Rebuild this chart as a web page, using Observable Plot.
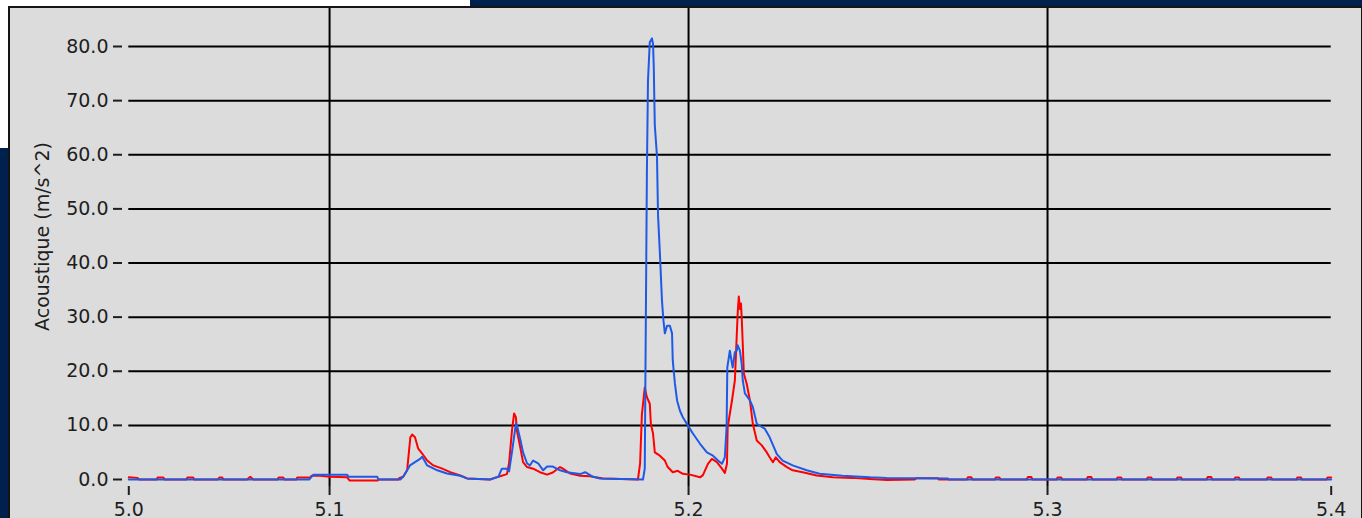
<!DOCTYPE html>
<html><head><meta charset="utf-8">
<script src="https://cdn.jsdelivr.net/npm/d3@7"></script>
<script src="https://cdn.jsdelivr.net/npm/@observablehq/plot@0.6"></script>
<style>
html,body{margin:0;padding:0;}
body{width:1362px;height:518px;overflow:hidden;position:relative;background:#00204e;font-family:"DejaVu Sans",sans-serif;}
#white{position:absolute;left:0;top:0;width:470px;height:148px;background:#ffffff;}
#panel{position:absolute;left:8px;top:6px;width:1351px;height:520px;background:#dcdcdc;border:2px solid #141414;}
#panel svg{display:block;}
</style></head><body>
<div id="white"></div>
<div id="panel"></div>
<script>
// Axis ticks (LabVIEW-style: end labels show the rounded domain limits)
const xTickValues = [5.04407, 5.1, 5.2, 5.3, 5.37902];
const xTickLabels = ["5.0", "5.1", "5.2", "5.3", "5.4"];
const xGridValues = [5.1, 5.2, 5.3];
const yTickValues = [0, 10, 20, 30, 40, 50, 60, 70, 80];
const yGridValues = [10, 20, 30, 40, 50, 60, 70, 80];
const yLabel = "Acoustique (m/s^2)";

// Red channel [time (s), acceleration (m/s^2)]
const redSeries = [
  [5.04407,0.4],[5.0465,0.3],[5.0470,0],
  [5.0518,0],[5.0521,0.35],[5.0537,0.35],[5.0540,0],
  [5.0601,0],[5.0604,0.35],[5.0620,0.35],[5.0623,0],
  [5.0688,0],[5.0693,0.35],[5.0701,0.35],[5.0704,0],
  [5.0770,0],[5.0779,0.5],[5.0788,0],
  [5.0855,0],[5.0858,0.35],[5.0871,0.35],[5.0874,0],
  [5.0907,0],[5.0910,0.35],[5.0946,0.35],[5.0950,0.7],[5.0974,0.7],[5.1000,0.5],[5.1049,0.4],
  [5.1056,-0.2],[5.1133,-0.2],[5.1137,0],[5.1191,0],[5.1195,0.3],
  [5.1205,0.5],[5.1216,1.7],[5.1225,7.8],[5.1230,8.3],[5.1238,7.8],[5.1247,5.7],[5.1258,4.8],
  [5.1272,3.5],[5.1289,2.6],[5.1314,2.0],[5.1336,1.35],[5.1364,0.74],[5.1383,0.2],[5.1447,0],
  [5.1460,0.3],[5.1475,0.6],[5.1494,1.0],[5.1500,3.0],[5.1508,9.0],[5.1514,12.2],[5.1519,11.5],
  [5.1522,9.0],[5.1531,6.0],[5.1539,3.2],[5.1550,2.3],[5.1567,2.0],[5.1586,1.35],[5.1606,0.9],
  [5.1622,1.3],[5.1642,2.3],[5.1650,2.0],[5.1670,1.1],[5.1698,0.7],[5.1725,0.6],[5.1762,0.2],
  [5.1859,0],[5.1865,3.0],[5.1870,12.0],[5.1878,17.0],[5.1884,15.2],[5.1892,14.0],[5.1895,10.3],
  [5.1901,8.5],[5.1906,5.0],[5.1920,4.4],[5.1934,3.5],[5.1942,2.3],[5.1956,1.35],[5.1970,1.6],
  [5.1984,1.05],[5.2004,0.9],[5.2032,0.4],[5.2040,0.8],[5.2054,2.9],[5.2065,3.8],[5.2079,3.2],
  [5.2093,2.0],[5.2101,1.2],[5.2107,2.9],[5.2109,9.7],[5.2121,14.6],[5.2129,18.3],[5.2137,31.0],
  [5.2140,33.8],[5.2143,31.5],[5.2146,32.5],[5.2148,30.0],[5.2151,25.0],[5.2154,19.6],[5.2162,17.7],
  [5.2171,14.6],[5.2179,10.3],[5.2190,7.2],[5.2204,6.3],[5.2218,5.0],[5.2226,4.1],[5.2235,3.2],
  [5.2243,4.1],[5.2254,3.2],[5.2274,2.3],[5.2290,1.7],[5.2318,1.35],[5.2357,0.74],[5.2402,0.4],
  [5.2457,0.3],[5.2505,0.1],[5.2552,-0.1],[5.2630,0],[5.2635,0.25],[5.2694,0.25],[5.2697,0],
  [5.2775,0],[5.2778,0.4],[5.2788,0.4],[5.2791,0],
  [5.2853,0],[5.2856,0.35],[5.2866,0.35],[5.2869,0],
  [5.2942,0],[5.2945,0.45],[5.2955,0.45],[5.2958,0],
  [5.3025,0],[5.3028,0.35],[5.3038,0.35],[5.3041,0],
  [5.3109,0],[5.3112,0.45],[5.3122,0.45],[5.3125,0],
  [5.3192,0],[5.3195,0.35],[5.3205,0.35],[5.3208,0],
  [5.3276,0],[5.3279,0.35],[5.3289,0.35],[5.3292,0],
  [5.3359,0],[5.3362,0.35],[5.3372,0.35],[5.3375,0],
  [5.3443,0],[5.3446,0.45],[5.3456,0.45],[5.3459,0],
  [5.3520,0],[5.3523,0.35],[5.3533,0.35],[5.3536,0],
  [5.3610,0],[5.3613,0.35],[5.3623,0.35],[5.3626,0],
  [5.3693,0],[5.3696,0.35],[5.3706,0.35],[5.3709,0],
  [5.3777,0],[5.3780,0.35],[5.37902,0.35]
];

// Blue channel [time (s), acceleration (m/s^2)]
const blueSeries = [
  [5.04407,0],[5.0943,0],[5.0955,0.9],[5.1049,0.9],[5.1052,0.5],[5.1133,0.5],[5.1136,0],
  [5.1197,0],[5.1205,0.5],[5.1224,2.6],[5.1252,3.8],[5.1258,4.2],[5.1272,2.6],[5.1300,1.7],
  [5.1327,1.1],[5.1364,0.7],[5.1383,0.2],[5.1447,0],[5.1470,0.5],[5.1480,2.0],[5.1494,2.0],
  [5.1500,1.5],[5.1508,5.0],[5.1519,10.3],[5.1522,10.0],[5.1531,7.5],[5.1539,5.0],[5.1550,3.0],
  [5.1558,2.6],[5.1567,3.5],[5.1581,3.0],[5.1595,1.7],[5.1606,2.4],[5.1622,2.4],[5.1642,1.7],
  [5.1661,1.35],[5.1698,1.0],[5.1712,1.35],[5.1734,0.5],[5.1753,0.2],[5.1873,0],[5.1878,2.0],
  [5.1884,57.1],[5.1887,73.7],[5.1892,80.8],[5.1898,81.5],[5.1901,80.5],[5.1903,76.5],[5.1906,65.4],
  [5.1912,59.8],[5.1915,48.8],[5.1920,42.0],[5.1926,33.0],[5.1930,29.4],[5.1934,27.0],[5.1940,28.4],
  [5.1948,28.4],[5.1954,27.0],[5.1956,22.0],[5.1962,17.7],[5.1968,14.6],[5.1976,12.7],[5.1984,11.5],
  [5.1998,10.0],[5.2012,8.5],[5.2032,6.6],[5.2051,5.0],[5.2068,4.4],[5.2082,3.5],[5.2093,2.9],
  [5.2101,4.1],[5.2106,9.7],[5.2108,20.7],[5.2115,23.8],[5.2121,21.4],[5.2123,20.7],[5.2129,23.5],
  [5.2134,23.8],[5.2137,24.8],[5.2143,23.8],[5.2148,21.4],[5.2151,18.3],[5.2157,15.9],[5.2171,14.6],
  [5.2179,13.4],[5.2190,10.3],[5.2204,9.7],[5.2212,9.4],[5.2226,7.8],[5.2246,4.7],[5.2262,3.5],
  [5.2290,2.6],[5.2329,1.7],[5.2365,1.05],[5.2429,0.7],[5.2505,0.4],[5.2552,0.3],[5.2722,0.2],
  [5.2725,0],[5.37902,0]
];

const xDomain = [xTickValues[0], xTickValues[xTickValues.length - 1]];

const chart = Plot.plot({
  width: 1351,
  height: 510,
  marginLeft: 112,
  marginRight: 30,
  marginTop: 0,
  marginBottom: 32,
  style: {background: "transparent", fontFamily: "DejaVu Sans", fontSize: "19px", color: "#1e1e1e", overflow: "visible"},
  x: {domain: xDomain, range: [118.3, 1320.7]},
  y: {domain: [0, 80], range: [471, 38]},
  marks: [
    Plot.ruleY(yGridValues, {x1: xDomain[0], x2: xDomain[1], stroke: "#000", strokeWidth: 2}),
    Plot.gridX({ticks: xGridValues, stroke: "#000", strokeOpacity: 1, strokeWidth: 2, marginBottom: 39}),
    Plot.axisY({ticks: yTickValues, tickFormat: d => d.toFixed(1), tickSize: 9, tickPadding: 5, strokeWidth: 2, label: null}),
    Plot.text([yLabel], {text: d => d, frameAnchor: "left", rotate: -90, textAnchor: "middle", lineAnchor: "top", dx: -87, dy: -11, fontSize: 19, fill: "#1e1e1e"}),
    Plot.axisX({ticks: xTickValues, tickFormat: d => xTickLabels[xTickValues.indexOf(d)], tickSize: 9, tickPadding: 7, strokeWidth: 2, label: null}),
    Plot.line(redSeries, {x: d => d[0], y: d => d[1], stroke: "#ff0000", strokeWidth: 2}),
    Plot.line(blueSeries, {x: d => d[0], y: d => d[1], stroke: "#1f5ae6", strokeWidth: 2})
  ]
});
document.getElementById("panel").appendChild(chart);
</script></body></html>
